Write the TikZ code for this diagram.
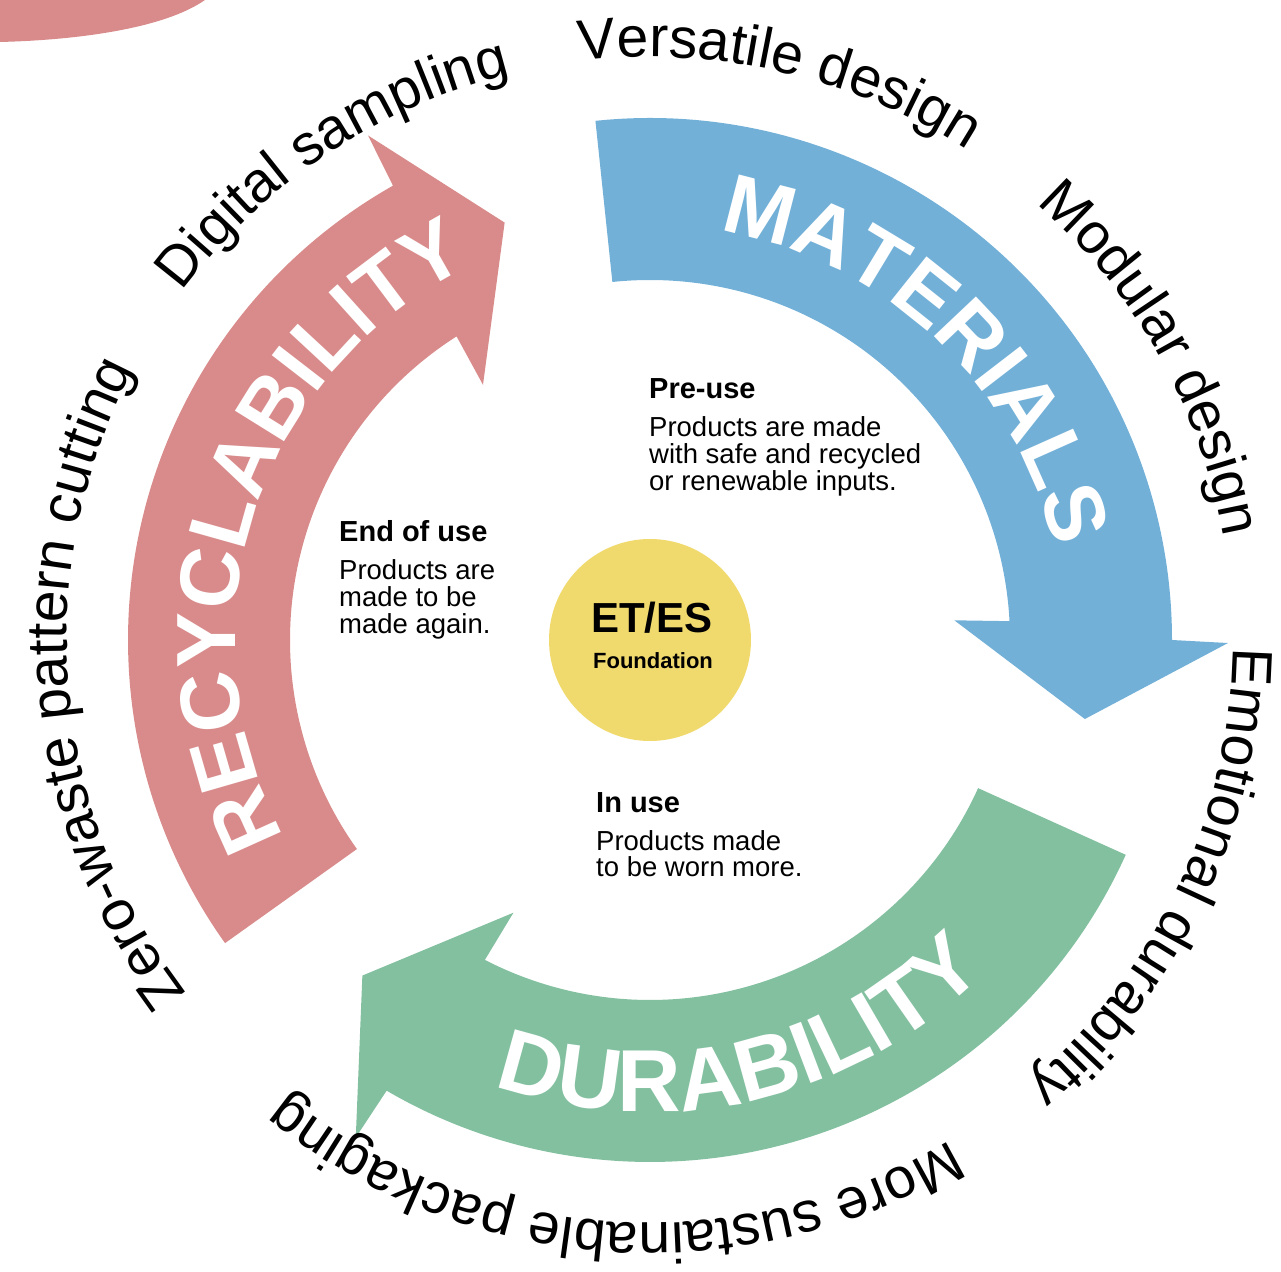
\documentclass[tikz,border=0pt]{standalone}
\usepackage{fontspec}
\setmainfont{Liberation Sans}
\usetikzlibrary{decorations.text}

\definecolor{matblue}{HTML}{72B0D8}
\definecolor{recred}{HTML}{D98B8B}
\definecolor{durgreen}{HTML}{83C0A0}
\definecolor{hubyellow}{HTML}{F0DA6E}

\newcommand\bandfont{\fontsize{84}{90}\selectfont\bfseries\color{white}}
\newcommand\bandfontwide{\fontsize{88}{94}\selectfont\bfseries\color{white}}
\newcommand\ringfont{\fontsize{57}{60}\selectfont}
\newcommand\headfont{\fontsize{29}{32}\selectfont\bfseries}
\newcommand\bodyfont{\fontsize{27.5}{28}\selectfont}

% one curved arrow of the cycle; #1 = angle of its tail, #2 = colour
\newcommand\cyclearrow[2]{%
  \fill[#2] (#1:522) arc[start angle=#1, end angle=#1-96, radius=522]
    -- ({#1-96.3}:578) -- ({#1-106.3}:442) -- ({#1-92.3}:305) -- ({#1-93}:360)
    arc[start angle=#1-93, end angle=#1, radius=360] -- cycle;}

\tikzset{
  bandtext/.style={decorate, decoration={text along path, text align=center, text={|\bandfont|#1}}},
  bandtextwide/.style={decorate, decoration={text along path, text align=center, text={|\bandfontwide|#1}}},
  ringtext/.style={decorate, decoration={text along path, text align=center, text={|\ringfont|#1}}},
  heading/.style={anchor=base west, inner sep=0pt, font=\headfont},
  bodyline/.style={anchor=base west, inner sep=0pt, font=\bodyfont},
  hubtext/.style={anchor=base, inner sep=0pt},
}

\begin{document}
\begin{tikzpicture}[x=1pt,y=1pt]
\useasboundingbox (-650,-631) rectangle (631,640);

% edge of a neighbouring red element
\fill[recred] (-650,640) -- (-445,640) .. controls (-485,612) and (-570,600) .. (-650,598) -- cycle;

% the three arrows of the cycle
\cyclearrow{96}{matblue}
\cyclearrow{215.5}{recred}
\cyclearrow{335.7}{durgreen}

% labels on the arrows
\path[bandtext=MATERIALS] (96.6:415) arc[start angle=96.6, end angle=-3.4, radius=415];
\path[bandtext=RECYCLABILITY] (222:415) arc[start angle=222, end angle=102, radius=415];
\path[bandtextwide=DURABILITY] (228:472) arc[start angle=228, end angle=338, radius=472];

% outer ring of practices
\path[ringtext={Versatile design}] (127:583) arc[start angle=127, end angle=27, radius=583];
\path[ringtext={Modular design}] (79.3:583) arc[start angle=79.3, end angle=-20.7, radius=583];
\path[ringtext={Emotional durability}] (34.8:583) arc[start angle=34.8, end angle=-85.2, radius=583];
\path[ringtext={More sustainable packaging}] (-33.9:583) arc[start angle=-33.9, end angle=-153.9, radius=583];
\path[ringtext={Zero-waste pattern cutting}] (244.8:583) arc[start angle=244.8, end angle=124.8, radius=583];
\path[ringtext={Digital sampling}] (173.6:583) arc[start angle=173.6, end angle=73.6, radius=583];

% centre
\node[circle, fill=hubyellow, minimum size=202pt, inner sep=0pt] (hub) at (0,0) {};
\node[hubtext, font=\fontsize{42}{46}\selectfont\bfseries] (hubtitle) at (2,7) {ET/ES};
\node[hubtext, font=\fontsize{22}{25}\selectfont\bfseries] (hubsub) at (3,-28) {Foundation};

% stage descriptions
\node[heading] (preuse) at (-1,241) {Pre-use};
\node[bodyline] (preuse1) at (-1,203) {Products are made};
\node[bodyline] (preuse2) at (-1,176) {with safe and recycled};
\node[bodyline] (preuse3) at (-1,149) {or renewable inputs.};

\node[heading] (endofuse) at (-311,98) {End of use};
\node[bodyline] (endofuse1) at (-311,60) {Products are};
\node[bodyline] (endofuse2) at (-311,33) {made to be};
\node[bodyline] (endofuse3) at (-311,6) {made again.};

\node[heading] (inuse) at (-54,-172) {In use};
\node[bodyline] (inuse1) at (-54,-210) {Products made};
\node[bodyline] (inuse2) at (-54,-236) {to be worn more.};
\end{tikzpicture}
\end{document}
